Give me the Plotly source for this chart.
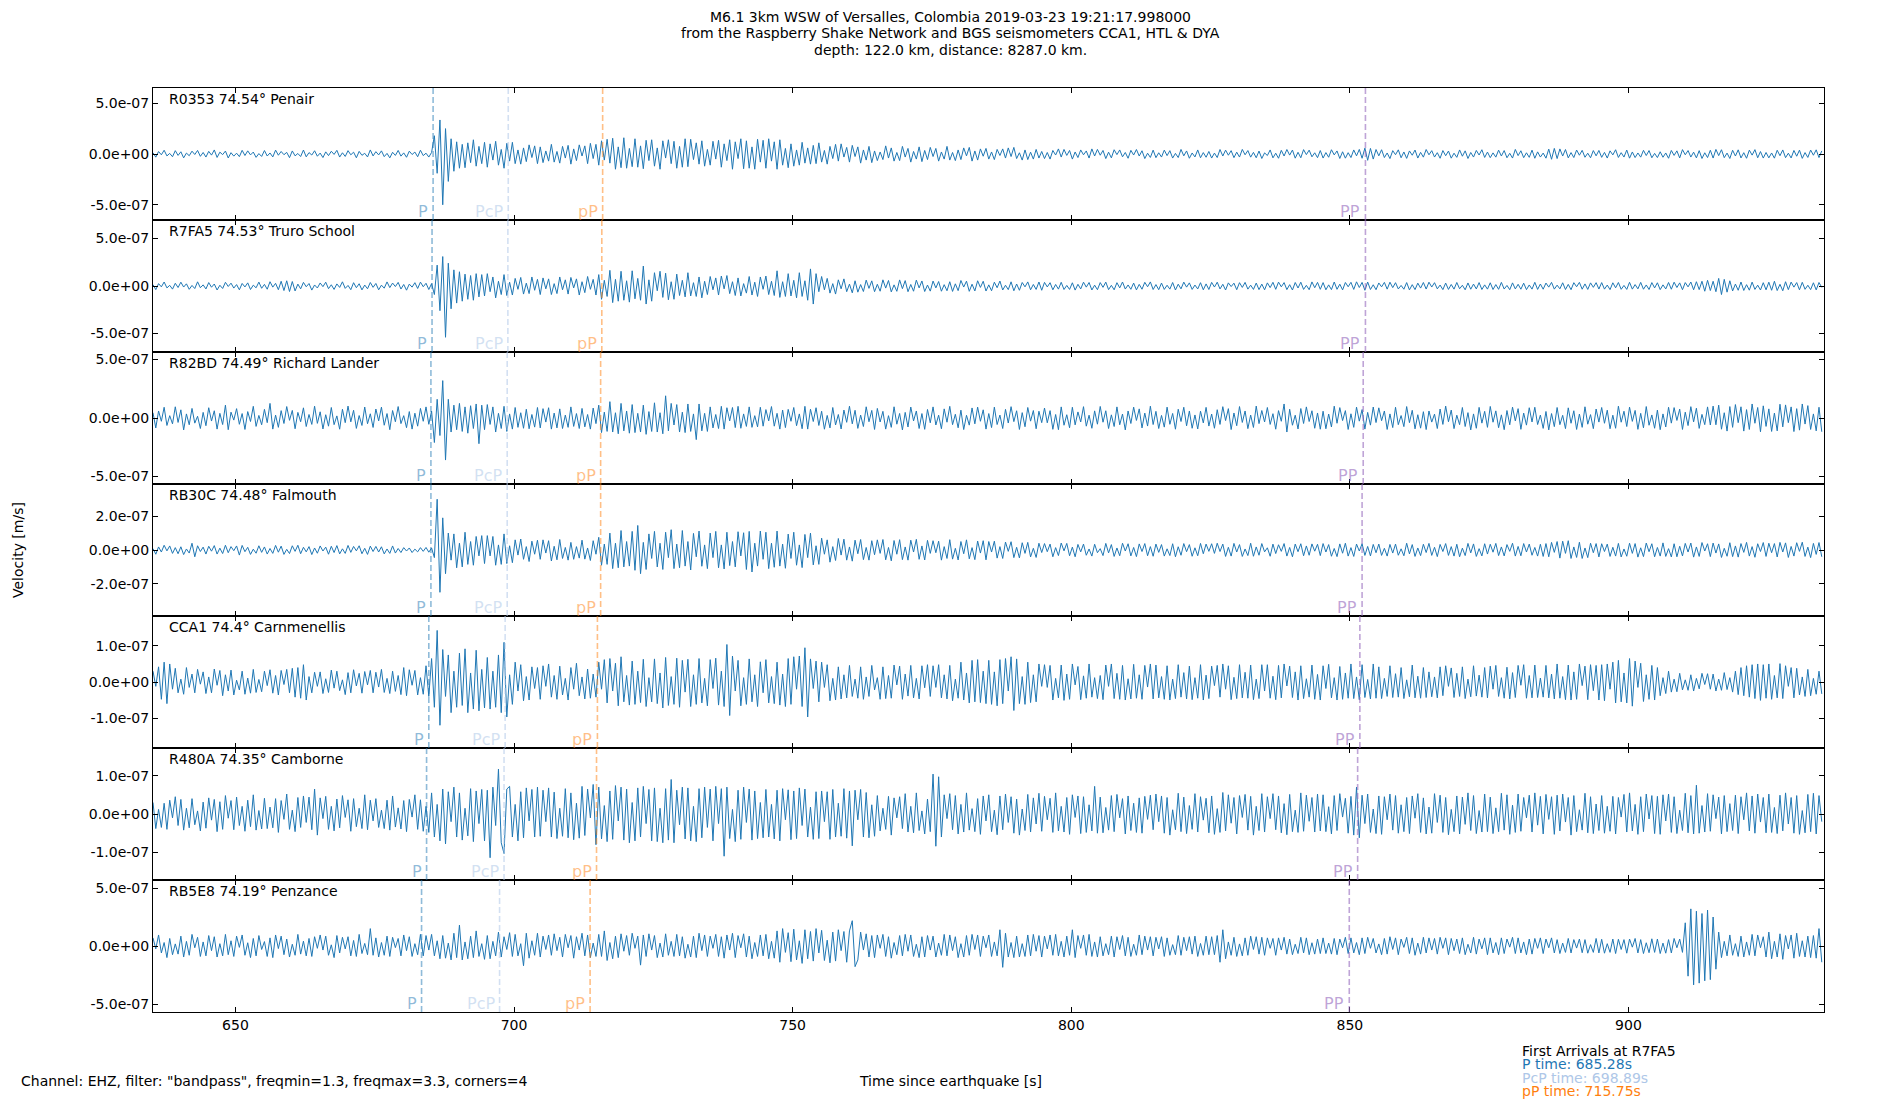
import numpy as np
import plotly.graph_objects as go
from plotly.subplots import make_subplots

# event header / footer text
title_lines = ["M6.1 3km WSW of Versalles, Colombia 2019-03-23 19:21:17.998000",
               "from the Raspberry Shake Network and BGS seismometers CCA1, HTL & DYA",
               "depth: 122.0 km, distance: 8287.0 km."]
filter_text = 'Channel: EHZ, filter: "bandpass", freqmin=1.3, freqmax=3.3, corners=4'
arrivals_header = "First Arrivals at R7FA5"
arrivals_lines = ["P time: 685.28s", "PcP time: 698.89s", "pP time: 715.75s"]
arrivals_colors = ["#1f77b4", "#aec7e8", "#ff7f0e"]

# stations, top to bottom
stations = ["R0353", "R7FA5", "R82BD", "RB30C", "CCA1", "R480A", "RB5E8"]
distances = ["74.54", "74.53", "74.49", "74.48", "74.4", "74.35", "74.19"]
places = ["Penair", "Truro School", "Richard Lander", "Falmouth",
          "Carnmenellis", "Camborne", "Penzance"]

# phase arrivals per station [s]
phases = ["P", "PcP", "pP", "PP"]
phase_colors = ["rgba(31,119,180,0.5)", "rgba(174,199,232,0.55)",
                "rgba(255,127,14,0.5)", "rgba(148,103,189,0.6)"]
p_times = [685.47, 685.28, 685.08, 685.08, 684.7, 684.3, 683.4]
pcp_times = [698.96, 698.89, 698.77, 698.77, 698.4, 698.2, 697.4]
pp_depth_times = [715.9, 715.75, 715.54, 715.54, 714.96, 714.8, 713.65]
pp_times = [852.8, 852.8, 852.4, 852.2, 851.8, 851.4, 849.9]

# y limits and tick step per panel [nm/s]
y_limits = [650, 695, 565, 390, 183, 172, 569]
y_steps = [500, 500, 500, 200, 100, 100, 500]

# sampling of the traces below
t_start = 635.2
dt = 0.5
x_range = [635.2, 935.1]

# velocity traces [nm/s], one line per 10 s
r0353 = [
    12, -31, 24, -8, 37, -19, 6, -27, 33, -14, 22, -38, 9, -17, 28, -5, 35, -23, 15, -30,
    26, -11, 40, -34, 18, -6, 29, -39, 13, -21, 8, -26, 36, -15, 31, -9, 19, -33, 4, -24,
    34, -20, 10, -29, 38, -12, 25, -7, 16, -36, 30, -18, 5, -25, 39, -28, 14, -10, 32, -22,
    9, -35, 21, -16, 27, -4, 36, -30, 12, -24, 33, -8, 18, -37, 26, -13, 7, -29, 40, -19,
    23, -9, 31, -26, 6, -38, 17, -14, 35, -21, 11, -32, 28, -5, 19, -27, 37, -16, 8, -30,
    15, 180, -190, 335, -500, 250, -270, 150, -170, 120, -140, 95, -135, 110, -85, 140, -120, 75, -95, 115,
    -130, 100, -60, 125, -110, 45, -140, 105, -70, 115, -95, 40, -100, 60, -75, 90, -35, 80, -95, 70,
    -85, 30, -70, 95, -80, 25, -90, 75, -40, 85, -100, 50, -65, 90, -20, 80, -95, 105, -45, 95,
    -110, 130, -60, 145, -90, 155, -150, 70, -135, 160, -140, 55, -125, 150, -130, 80, -145, 135, -65, 140,
    -120, 60, -150, 130, -40, 140, -95, 125, -140, 75, -130, 150, -125, 145, -55, 110, -100, 130, -120, 45,
    -110, 125, -50, 135, -130, 100, -65, 140, -150, 120, -45, 150, -145, 130, -140, 70, -150, 145, -80, 135,
    -140, 150, -70, 120, -150, 140, -110, 55, -135, 100, -120, 40, -110, 115, -90, 60, -100, 85, -95, 110,
    -80, 35, -100, 75, -45, 95, -70, 100, -30, 65, -80, 85, -25, 70, -90, 40, -60, 75, -85, 30,
    -65, 20, -55, 80, -40, 60, -70, 15, -65, 75, -30, 55, -80, 25, -50, 70, -75, 35, -55, 65,
    -25, 55, -70, 20, -50, 75, -60, 15, -65, 40, -55, 60, -18, 65, -70, 30, -60, 50, -22, 55,
    -50, 20, -55, 45, -15, 50, -40, 60, -25, 65, -45, 12, -60, 40, -55, 18, -50, 45, -40, 25,
    -45, 15, -50, 35, -10, 50, -30, 45, -14, 35, -50, 20, -35, 40, -8, 30, -40, 50, -20, 45,
    -12, 35, -45, 18, -38, 42, -6, 40, -28, 15, -42, 36, -10, 44, -20, 32, -45, 8, -34, 38,
    -36, 12, -30, 38, -16, 33, -40, 6, -35, 45, -18, 30, -42, 10, -29, 40, -37, 14, -32, 25,
    -40, 9, -35, 44, -20, 38, -12, 33, -36, 18, -30, 45, -8, 34, -31, 16, -37, 29, -44, 11,
    -15, 40, -38, 8, -42, 36, -20, 44, -11, 39, -41, 17, -37, 43, -6, 38, -28, 12, -36, 34,
    -40, 14, -32, 42, -9, 30, -44, 22, -41, 13, -35, 40, -18, 45, -42, 58, -62, 55, -50, 44,
    -18, 42, -35, 10, -45, 33, -7, 41, -37, 20, -43, 30, -12, 39, -40, 16, -31, 44, -8, 33,
    -30, 13, -42, 34, -17, 29, -41, 8, -33, 40, -22, 31, -44, 15, -30, 35, -10, 42, -34, 19,
    -36, 11, -31, 38, -20, 34, -37, 7, -40, 45, -16, 32, -36, 12, -33, 38, -42, 21, -30, 9,
    -41, 48, -52, 55, -45, 50, -20, 44, -38, 14, -35, 39, -12, 36, -32, 8, -37, 34, -18, 35,
    -33, 16, -40, 31, -9, 42, -34, 13, -30, 39, -41, 20, -35, 10, -31, 36, -15, 34, -37, 6,
    -35, 22, -32, 10, -42, 35, -14, 31, -39, 43, -8, 34, -30, 18, -38, 33, -44, 12, -35, 37,
    -40, 45, -16, 42, -36, 9, -44, 37, -20, 41, -39, 13, -42, 38, -11, 43, -37, 24, -40, 15,
    -38, 10, -41, 37, -17, 40, -36, 8, -39, 35, -22, 38, -43, 14, -34, 39, -12, 41, -35, 30,
]

r7fa5 = [
    14, -38, 25, -9, 42, -20, 7, -33, 29, -16, 40, -11, 23, -35, 6, -27, 44, -18, 12, -31,
    36, -13, 21, -42, 8, -26, 39, -5, 30, -22, 15, -40, 27, -10, 33, -37, 9, -19, 41, -24,
    17, -34, 45, -12, 28, -39, 50, -48, 55, -58, 47, -52, 20, -30, 38, -8, 26, -43, 11, -21,
    32, -7, 40, -28, 13, -36, 22, -15, 44, -25, 6, -39, 35, -18, 24, -41, 10, -29, 37, -14,
    27, -40, 9, -23, 43, -17, 31, -6, 38, -32, 16, -44, 20, -12, 35, -26, 41, -8, 29, -37,
    25, -90, 220, -260, 310, -540, 240, -240, 170, -180, 150, -160, 125, -140, 110, -150, 130, -115, 120, -105,
    130, -60, 95, -125, 50, -90, 120, -100, 40, -95, 80, -35, 90, -85, 30, -80, 95, -45, 70, -90,
    85, -30, 75, -90, 25, -80, 95, -40, 65, -85, 90, -20, 75, -95, 45, -70, 100, -35, 70, -95,
    120, -140, 60, -110, 165, -175, 70, -160, 155, -150, 55, -170, 160, -135, 80, -150, 210, -190, 65, -160,
    140, -50, 155, -120, 135, -145, 45, -140, 125, -100, 60, -115, 140, -105, 35, -110, 95, -125, 50, -90,
    100, -40, 85, -95, 105, -30, 110, -80, 45, -100, 85, -105, 25, -75, 100, -95, 40, -110, 95, -35,
    105, -90, 50, -100, 160, -120, 45, -110, 130, -105, 60, -125, 140, -110, 55, -150, 180, -190, 130, -60,
    100, -40, 80, -75, 25, -85, 65, -30, 75, -60, 20, -72, 55, -65, 15, -58, 62, -25, 54, -60,
    18, -55, 65, -22, 58, -62, 12, -56, 64, -28, 57, -60, 16, -55, 62, -20, 53, -58, 10, -54,
    52, -20, 47, -55, 14, -50, 45, -57, 23, -49, 58, -11, 51, -56, 19, -52, 55, -15, 50, -53,
    12, -50, 40, -18, 52, -42, 8, -38, 44, -50, 21, -45, 37, -9, 43, -40, 16, -36, 42, -45,
    38, -10, 35, -40, 16, -33, 39, -37, 6, -36, 34, -43, 18, -31, 40, -12, 37, -42, 9, -39,
    36, -14, 41, -38, 7, -40, 35, -20, 42, -32, 11, -35, 31, -41, 17, -34, 39, -8, 43, -37,
    15, -39, 31, -36, 8, -33, 37, -42, 19, -30, 41, -12, 33, -36, 10, -31, 35, -40, 22, -37,
    38, -11, 40, -31, 18, -42, 33, -6, 30, -39, 35, -15, 38, -33, 9, -36, 31, -38, 20, -40,
    33, -17, 39, -35, 41, -9, 36, -38, 14, -42, 37, -21, 40, -36, 7, -39, 43, -18, 38, -35,
    36, -40, 12, -38, 42, -35, 19, -41, 37, -8, 39, -36, 44, -16, 38, -45, 42, -37, 13, -39,
    32, -9, 38, -33, 40, -17, 35, -31, 6, -34, 36, -41, 14, -38, 30, -22, 37, -32, 40, -11,
    35, -30, 10, -38, 31, -36, 16, -33, 37, -29, 8, -40, 32, -34, 20, -31, 36, -37, 12, -33,
    34, -37, 15, -35, 38, -32, 6, -39, 33, -31, 18, -34, 30, -38, 11, -33, 39, -36, 21, -34,
    31, -12, 38, -33, 9, -30, 34, -37, 17, -39, 35, -8, 38, -34, 22, -36, 33, -14, 35, -32,
    36, -33, 10, -38, 34, -19, 37, -35, 6, -36, 39, -33, 15, -30, 38, -34, 11, -37, 36, -20,
    34, -38, 12, -31, 37, -34, 40, -16, 33, -39, 36, -9, 42, -40, 45, -38, 50, -55, 60, -48,
    50, -60, 80, -90, 70, -65, 55, -52, 20, -45, 42, -47, 14, -44, 41, -36, 9, -42, 35, -40,
    40, -45, 50, -48, 18, -50, 45, -38, 41, -12, 36, -40, 39, -35, 8, -38, 34, -41, 37, -15,
]

r82bd = [
    45, -85, 60, -28, 92, -64, 20, -50, 96, -38, 70, -102, 35, -58, 82, -44, 15, -90, 48, -66,
    88, -26, 62, -95, 40, -56, 110, -100, 50, -18, 80, -54, 38, -98, 55, -30, 100, -72, 22, -58,
    74, -40, 125, -95, 25, -80, 63, -47, 98, -20, 65, -92, 48, -32, 87, -73, 30, -55, 101, -46,
    53, -94, 28, -70, 90, -57, 18, -96, 75, -40, 102, -33, 66, -89, 21, -64, 94, -49, 36, -81,
    77, -25, 93, -62, 38, -100, 64, -32, 98, -48, 20, -83, 55, -95, 41, -70, 82, -28, 95, -54,
    60, -210, 160, -150, 320, -360, 160, -120, 110, -100, 125, -115, 95, -130, 105, -90, 120, -220, 110, -100,
    115, -55, 95, -120, 40, -90, 100, -115, 35, -95, 90, -80, 45, -88, 75, -92, 30, -78, 90, -85,
    80, -35, 88, -95, 42, -85, 78, -90, 25, -80, 95, -72, 38, -90, 82, -76, 30, -95, 85, -48,
    110, -125, 50, -115, 140, -120, 45, -135, 125, -110, 60, -130, 115, -125, 40, -120, 110, -140, 55, -115,
    130, -120, 45, -135, 190, -110, 125, -60, 115, -120, 50, -125, 120, -115, 35, -185, 120, -110, 40, -115,
    95, -85, 30, -90, 100, -95, 88, -25, 90, -82, 100, -88, 35, -72, 95, -80, 20, -76, 92, -70,
    72, -25, 98, -70, 40, -95, 68, -82, 74, -28, 90, -66, 35, -92, 100, -95, 75, -30, 88, -64,
    58, -96, 22, -85, 90, -60, 30, -94, 68, -37, 101, -50, 66, -89, 25, -73, 96, -32, 65, -98,
    82, -34, 57, -95, 20, -80, 96, -53, 39, -102, 48, -77, 94, -25, 60, -90, 38, -97, 73, -41,
    95, -60, 24, -92, 78, -36, 100, -57, 32, -84, 67, -99, 23, -61, 86, -50, 93, -28, 70, -95,
    38, -82, 93, -56, 25, -90, 74, -43, 97, -31, 62, -98, 46, -75, 90, -27, 64, -92, 58, -40,
    85, -41, 63, -97, 30, -100, 95, -62, 28, -84, 92, -59, 52, -34, 97, -70, 24, -88, 61, -53,
    99, -36, 62, -90, 27, -73, 95, -58, 34, -102, 60, -47, 93, -21, 78, -85, 42, -69, 101, -56,
    57, -90, 22, -78, 93, -54, 39, -96, 75, -30, 92, -67, 60, -88, 26, -94, 58, -42, 91, -69,
    34, -88, 71, -55, 97, -22, 80, -99, 43, -66, 98, -38, 60, -91, 25, -81, 102, -48, 64, -34,
    90, -55, 37, -96, 63, -28, 120, -120, 75, -62, 24, -94, 81, -47, 95, -30, 62, -88, 43, -96,
    58, -92, 34, -77, 101, -45, 89, -22, 63, -98, 36, -80, 93, -27, 72, -95, 48, -61, 94, -39,
    87, -23, 60, -98, 35, -82, 92, -57, 21, -74, 98, -40, 66, -93, 28, -87, 54, -99, 60, -35,
    33, -90, 77, -55, 102, -32, 68, -91, 24, -57, 90, -73, 46, -102, 35, -88, 91, -44, 57, -80,
    99, -36, 61, -83, 27, -100, 64, -58, 93, -25, 80, -97, 42, -61, 88, -34, 92, -56, 25, -89,
    56, -102, 38, -74, 90, -57, 23, -91, 87, -45, 62, -98, 34, -80, 96, -53, 29, -91, 77, -35,
    90, -45, 67, -92, 24, -88, 101, -36, 58, -73, 93, -29, 65, -97, 40, -84, 98, -62, 26, -88,
    68, -100, 35, -77, 92, -44, 89, -21, 76, -98, 50, -65, 97, -33, 84, -89, 31, -57, 95, -60,
    102, -58, 110, -96, 45, -112, 98, -80, 115, -40, 96, -112, 72, -98, 120, -45, 90, -118, 104, -72,
    78, -115, 42, -110, 118, -76, 112, -40, 95, -116, 80, -104, 120, -52, 106, -98, 35, -110, 92, -118,
]

rb30c = [
    8, -25, 18, -12, 28, -5, 24, -20, 14, -22, 19, -27, 6, -18, 40, -40, 25, -9, 17, -24,
    22, -7, 26, -24, 11, -21, 28, -16, 20, -4, 24, -30, 27, -10, 16, -26, 5, -19, 25, -14,
    18, -24, 9, -20, 27, -13, 23, -26, 4, -21, 25, -8, 28, -22, 16, -11, 20, -27, 12, -19,
    24, -6, 17, -25, 22, -15, 26, -23, 7, -20, 27, -14, 21, -5, 25, -22, 10, -26, 23, -9,
    21, -12, 19, -23, 6, -20, 24, -18, 9, -15, 14, -6, 12, -15, 5, -11, 14, -8, 15, -13,
    12, -45, 300, -250, 190, -140, 100, -60, 95, -105, 40, -100, 105, -85, 50, -90, 80, -35, 85, -80,
    85, -35, 80, -90, 30, -85, 95, -80, 25, -75, 60, -30, 65, -55, 20, -68, 52, -25, 58, -55,
    60, -18, 55, -65, 22, -58, 62, -50, 15, -60, 45, -55, 20, -48, 58, -54, 12, -62, 55, -25,
    75, -90, 35, -85, 100, -110, 40, -105, 115, -100, 50, -95, 110, -120, 145, -140, 45, -115, 95, -50,
    110, -100, 40, -115, 105, -45, 120, -110, 35, -105, 115, -95, 50, -118, 98, -40, 112, -96, 30, -110,
    100, -45, 110, -105, 30, -112, 105, -92, 50, -100, 108, -35, 102, -115, 110, -130, 40, -95, 112, -55,
    105, -110, 40, -102, 112, -95, 35, -108, 94, -50, 105, -90, 30, -104, 92, -45, 100, -88, 25, -85,
    70, -25, 60, -72, 20, -62, 68, -30, 64, -60, 18, -66, 58, -22, 62, -57, 15, -60, 55, -28,
    60, -20, 62, -58, 15, -64, 56, -25, 61, -57, 18, -60, 58, -12, 63, -55, 24, -59, 57, -20,
    55, -16, 52, -60, 20, -50, 61, -54, 10, -59, 50, -22, 60, -52, 14, -57, 53, -18, 55, -58,
    50, -12, 52, -48, 20, -50, 47, -8, 49, -45, 16, -47, 43, -20, 45, -41, 10, -44, 40, -15,
    38, -10, 35, -40, 14, -33, 41, -5, 39, -34, 17, -40, 33, -11, 35, -31, 6, -36, 34, -16,
    8, -33, 39, -17, 32, -38, 12, -34, 40, -6, 37, -35, 15, -39, 36, -9, 38, -34, 20, -37,
    35, -14, 32, -36, 7, -33, 37, -40, 19, -31, 38, -10, 32, -37, 13, -34, 39, -22, 35, -8,
    37, -20, 40, -9, 35, -38, 16, -36, 39, -12, 32, -38, 6, -33, 40, -37, 18, -31, 38, -11,
    13, -37, 35, -21, 31, -8, 38, -36, 15, -40, 35, -10, 37, -34, 24, -31, 36, -7, 34, -33,
    38, -12, 32, -37, 9, -39, 36, -19, 40, -36, 14, -38, 35, -6, 37, -32, 21, -35, 33, -16,
    35, -32, 10, -36, 33, -18, 35, -31, 7, -34, 40, -23, 32, -38, 12, -33, 34, -15, 39, -32,
    16, -39, 33, -9, 38, -32, 20, -36, 34, -40, 11, -33, 39, -17, 36, -38, 8, -35, 37, -24,
    34, -13, 39, -33, 18, -35, 32, -8, 40, -36, 21, -34, 38, -12, 35, -31, 15, -36, 34, -38,
    38, -40, 45, -14, 50, -48, 52, -20, 55, -50, 18, -44, 46, -50, 12, -45, 40, -16, 38, -41,
    37, -9, 35, -38, 16, -36, 39, -41, 6, -37, 40, -20, 38, -42, 13, -39, 41, -10, 37, -40,
    15, -36, 42, -38, 8, -41, 37, -40, 22, -35, 39, -12, 41, -42, 18, -38, 44, -6, 37, -39,
    41, -18, 36, -44, 10, -37, 43, -39, 24, -42, 38, -14, 45, -36, 20, -43, 37, -9, 44, -38,
    40, -16, 38, -41, 45, -12, 42, -44, 21, -36, 43, -8, 46, -38, 17, -45, 39, -26, 44, -40,
]

cca1 = [
    30, -12, 42, -48, 55, -60, 50, -20, 38, -30, 8, -34, 40, -15, 22, -30, 35, -6, 28, -32,
    14, -30, 36, -9, 32, -38, 20, -25, 33, -36, 5, -22, 30, -34, 11, -31, 35, -29, 7, -27,
    30, -10, 34, -31, 18, -36, 32, -7, 35, -30, 38, -42, 40, -45, 48, -50, 15, -30, 27, -12,
    28, -32, 9, -29, 33, -17, 30, -24, 6, -35, 26, -30, 34, -11, 24, -31, 29, -8, 32, -30,
    27, -14, 35, -29, 10, -32, 30, -26, 18, -35, 40, -38, 34, -9, 32, -36, 12, -34, 45, -40,
    65, -70, 143, -120, 90, -40, 75, -85, 30, -70, 80, -65, 92, -85, 25, -75, 88, -80, 35, -72,
    68, -75, 30, -70, 75, -85, 110, -97, 20, -62, 55, -25, 48, -52, 15, -50, 42, -18, 40, -48,
    45, -12, 50, -42, 18, -48, 44, -36, 10, -50, 40, -20, 52, -38, 14, -47, 36, -45, 22, -42,
    55, -20, 62, -58, 65, -25, 52, -66, 70, -55, 18, -64, 58, -62, 30, -57, 63, -68, 12, -55,
    64, -60, 25, -72, 68, -65, 15, -62, 66, -70, 60, -28, 63, -68, 20, -62, 65, -58, 10, -66,
    62, -18, 66, -64, 30, -68, 104, -93, 72, -25, 60, -66, 12, -62, 64, -55, 20, -68, 56, -30,
    62, -58, 15, -60, 55, -64, 22, -68, 65, -62, 70, -20, 72, -68, 95, -97, 64, -18, 58, -55,
    55, -15, 48, -52, 10, -50, 42, -47, 20, -44, 46, -40, 8, -45, 42, -48, 14, -40, 46, -22,
    12, -48, 42, -46, 18, -45, 47, -8, 44, -48, 22, -39, 46, -44, 10, -47, 45, -16, 48, -40,
    45, -15, 48, -44, 20, -47, 46, -52, 8, -45, 55, -50, 25, -58, 60, -55, 62, -57, 30, -60,
    60, -62, 28, -66, 62, -60, 65, -25, 70, -79, 64, -60, 15, -62, 55, -57, 20, -55, 50, -12,
    48, -15, 46, -50, 10, -44, 47, -51, 22, -48, 50, -8, 43, -49, 17, -45, 50, -42, 12, -46,
    18, -49, 47, -12, 50, -46, 24, -48, 46, -50, 9, -47, 49, -45, 20, -48, 46, -14, 50, -47,
    47, -44, 15, -48, 45, -50, 8, -46, 48, -42, 26, -47, 44, -49, 12, -45, 48, -50, 19, -46,
    44, -10, 46, -42, 50, -20, 45, -49, 13, -46, 48, -44, 27, -45, 47, -49, 8, -46, 48, -25,
    48, -45, 16, -49, 46, -44, 50, -11, 44, -43, 28, -50, 45, -46, 9, -42, 47, -48, 21, -50,
    45, -18, 49, -44, 12, -50, 43, -48, 25, -45, 50, -46, 14, -49, 48, -43, 7, -47, 50, -45,
    42, -46, 10, -40, 45, -43, 23, -42, 40, -46, 6, -41, 47, -44, 16, -45, 40, -43, 28, -41,
    14, -44, 42, -38, 45, -12, 39, -43, 24, -40, 42, -46, 8, -41, 45, -39, 19, -42, 40, -44,
    44, -20, 46, -40, 12, -45, 41, -47, 26, -43, 46, -9, 48, -45, 18, -44, 47, -43, 11, -42,
    46, -44, 22, -47, 50, -45, 15, -49, 47, -50, 28, -48, 50, -10, 44, -49, 48, -24, 46, -50,
    48, -52, 50, -20, 55, -58, 60, -55, 25, -58, 65, -67, 58, -15, 52, -54, 20, -48, 46, -50,
    40, -38, 12, -32, 30, -28, 8, -27, 24, -22, 6, -23, 20, -25, 10, -19, 24, -7, 23, -20,
    22, -25, 8, -23, 26, -21, 12, -28, 30, -35, 40, -38, 45, -42, 48, -46, 50, -51, 48, -45,
    50, -48, 18, -44, 51, -46, 45, -12, 40, -44, 38, -36, 14, -40, 35, -38, 10, -34, 30, -33,
]

r480a = [
    30, -38, 12, -35, 28, -40, 36, -10, 45, -30, 38, -42, 15, -36, 40, -28, 8, -44, 31, -37,
    42, -16, 38, -46, 32, -40, 48, -11, 35, -41, 44, -30, 20, -45, 36, -33, 50, -42, 9, -39,
    41, -38, 18, -36, 40, -48, 35, -14, 52, -40, 10, -46, 43, -35, 47, -22, 44, -41, 65, -55,
    42, -12, 46, -40, 20, -44, 39, -36, 48, -9, 37, -45, 40, -33, 15, -38, 50, -41, 36, -18,
    40, -35, 10, -38, 36, -42, 47, -34, 16, -39, 35, -46, 38, -8, 50, -40, 37, -45, 20, -48,
    55, -60, 25, -70, 65, -78, 58, -20, 70, -60, 55, -68, 15, -57, 66, -72, 60, -25, 64, -70,
    62, -114, 70, -30, 117, -75, -103, 65, 72, -60, 25, -70, 58, -62, 68, -18, 64, -60, 70, -58,
    62, -20, 68, -60, 57, -64, 15, -58, 66, -62, 55, -67, 28, -63, 72, -56, 65, -10, 77, -80,
    70, -65, 22, -72, 60, -66, 74, -18, 70, -68, 65, -75, 30, -70, 68, -60, 72, -25, 64, -70,
    68, -72, 15, -75, 66, -68, 90, -75, 62, -28, 70, -65, 68, -70, 20, -72, 66, -62, 70, -35,
    65, -70, 72, -25, 66, -110, 70, -64, 12, -72, 62, -66, 70, -22, 65, -68, 60, -64, 30, -62,
    64, -60, 25, -65, 62, -70, 66, -15, 63, -67, 60, -64, 68, -30, 65, -60, 18, -66, 58, -64,
    60, -20, 58, -66, 64, -60, 28, -58, 66, -63, 60, -83, 62, -15, 64, -60, 56, -62, 24, -58,
    48, -44, 15, -40, 46, -55, 42, -10, 45, -38, 53, -47, 20, -49, 55, -43, 8, -52, 39, -46,
    104, -84, 97, -60, 50, -12, 53, -41, 48, -52, 25, -47, 55, -42, 14, -46, 40, -53, 47, -18,
    50, -46, 10, -54, 47, -41, 52, -22, 45, -50, 39, -55, 13, -43, 51, -47, 42, -26, 54, -45,
    46, -15, 41, -48, 55, -44, 20, -47, 43, -53, 50, -9, 47, -51, 45, -48, 24, -44, 72, -50,
    44, -49, 17, -42, 48, -46, 51, -10, 40, -52, 47, -43, 28, -48, 42, -50, 46, -14, 49, -41,
    52, -20, 47, -50, 43, -55, 11, -41, 54, -46, 44, -51, 22, -40, 53, -47, 45, -16, 41, -49,
    47, -53, 14, -48, 56, -44, 50, -24, 43, -52, 48, -9, 51, -42, 46, -55, 20, -43, 53, -47,
    45, -12, 53, -41, 47, -49, 27, -54, 51, -46, 10, -48, 55, -45, 49, -19, 43, -47, 52, -44,
    50, -46, 19, -52, 48, -43, 53, -8, 41, -50, 46, -55, 70, -62, 49, -25, 52, -48, 13, -51,
    47, -53, 45, -15, 52, -42, 48, -50, 24, -46, 43, -51, 47, -11, 53, -48, 42, -52, 18, -50,
    53, -22, 49, -48, 43, -54, 12, -46, 47, -52, 44, -27, 55, -43, 48, -51, 9, -47, 52, -46,
    44, -51, 16, -46, 54, -42, 50, -53, 23, -48, 52, -45, 43, -10, 49, -47, 55, -29, 46, -52,
    51, -14, 45, -53, 49, -44, 52, -21, 43, -55, 48, -46, 11, -42, 54, -49, 45, -51, 26, -43,
    48, -50, 20, -45, 46, -52, 43, -8, 51, -47, 55, -44, 25, -53, 45, -46, 52, -13, 48, -51,
    46, -53, 50, -18, 52, -48, 45, -51, 10, -43, 54, -49, 48, -52, 75, -50, 22, -47, 53, -45,
    50, -12, 44, -52, 48, -46, 27, -43, 49, -51, 45, -15, 55, -44, 47, -50, 52, -21, 43, -49,
    52, -48, 17, -51, 49, -44, 55, -26, 43, -50, 48, -53, 9, -49, 51, -46, 54, -52, 48, -20,
]

rb5e8 = [
    70, -25, 95, -60, 30, -100, 65, -75, 18, -70, 85, -95, 40, -80, 100, -15, 75, -90, 35, -85,
    90, -40, 80, -95, 20, -85, 100, -75, 45, -90, 85, -12, 95, -80, 28, -100, 65, -85, 90, -30,
    38, -90, 70, -100, 95, -22, 85, -75, 60, -95, 15, -80, 100, -70, 42, -85, 65, -90, 80, -20,
    95, -35, 85, -80, 10, -100, 90, -60, 75, -25, 80, -85, 48, -90, 100, -65, 22, -75, 150, -80,
    70, -95, 30, -80, 85, -90, 75, -14, 65, -85, 95, -40, 80, -90, 20, -75, 100, -85, 90, -35,
    100, -85, 45, -110, 90, -105, 25, -120, 110, -100, 180, -120, 35, -110, 85, -100, 130, -90, 20, -115,
    90, -110, 40, -85, 120, -95, 80, -30, 115, -90, 100, -85, 20, -170, 110, -105, 45, -80, 110, -95,
    85, -30, 95, -80, 105, -40, 75, -95, 100, -15, 90, -105, 80, -35, 110, -85, 95, -100, 25, -90,
    100, -90, 130, -125, 30, -110, 85, -100, 105, -45, 90, -80, 110, -20, 85, -165, 95, -90, 105, -35,
    90, -100, 25, -95, 105, -80, 40, -90, 100, -85, 80, -105, 15, -95, 85, -100, 110, -40, 95, -90,
    85, -20, 100, -90, 80, -105, 95, -35, 110, -100, 90, -15, 105, -95, 85, -110, 30, -90, 95, -85,
    100, -110, 40, -105, 130, -140, 150, -55, 115, -135, 145, -120, 45, -150, 140, -110, 125, -130, 150, -60,
    135, -125, 50, -145, 120, -130, 140, -40, 125, -140, 130, 218, -178, -120, 120, -35, 105, -95, 90, -100,
    95, -20, 100, -90, 80, -105, 30, -75, 90, -85, 100, -45, 95, -90, 15, -100, 80, -95, 90, -35,
    85, -95, 25, -80, 100, -85, 95, -40, 80, -100, 20, -95, 90, -80, 100, -30, 95, -90, 85, -15,
    95, -90, 35, -85, 140, -184, 110, -95, 30, -100, 85, -95, 20, -90, 95, -85, 100, -45, 90, -95,
    85, -25, 95, -80, 100, -85, 40, -95, 85, -80, 140, -100, 90, -20, 95, -80, 100, -90, 35, -95,
    80, -85, 20, -75, 85, -95, 80, -30, 90, -85, 75, -90, 15, -80, 95, -75, 85, -35, 80, -85,
    75, -25, 80, -90, 70, -80, 12, -75, 90, -80, 75, -40, 80, -70, 85, -90, 22, -80, 85, -75,
    80, -75, 90, -140, 140, -110, 35, -80, 75, -90, 18, -85, 70, -80, 85, -30, 80, -70, 75, -80,
    70, -20, 65, -80, 70, -35, 75, -70, 60, -75, 15, -65, 75, -60, 70, -75, 28, -70, 60, -65,
    70, -65, 25, -70, 65, -75, 60, -15, 75, -65, 70, -60, 30, -75, 70, -65, 75, -20, 65, -60,
    18, -75, 65, -70, 80, -30, 70, -75, 60, -12, 75, -65, 70, -80, 25, -70, 75, -60, 70, -35,
    65, -70, 75, -20, 70, -75, 65, -40, 60, -65, 70, -75, 15, -60, 75, -70, 60, -25, 70, -75,
    70, -60, 30, -75, 70, -65, 60, -10, 75, -65, 70, -60, 35, -75, 60, -70, 65, -20, 70, -65,
    60, -15, 70, -60, 55, -65, 25, -55, 65, -60, 55, -18, 60, -58, 55, -62, 12, -55, 65, -60,
    58, -62, 20, -55, 60, -65, 58, -30, 55, -62, 60, -10, 65, -60, 55, -65, 28, -58, 62, -55,
    60, -65, 25, -62, 55, -60, 65, -15, 60, -55, 200, -260, 320, -335, 300, -320, 280, -300, 310, -290,
    250, -200, 120, -100, 40, -85, 95, -80, 20, -90, 85, -95, 35, -80, 100, -85, 95, -15, 80, -95,
    120, -110, 40, -95, 105, -115, 90, -25, 95, -105, 110, -90, 45, -95, 85, -100, 90, -105, 150, -140,
]

traces = [r0353, r7fa5, r82bd, rb30c, cca1, r480a, rb5e8]

# the page puts the figure 8 px in from the top-left corner
PAGE = 8
W, H = 1884, 1092
ML, MR, MT, MB = 145, 68, 80, 88
font = "DejaVu Sans"


def px_x(px):
    return (px - PAGE - ML) / (W - ML - MR)


def px_y(py):
    return (H - MB - (py - PAGE)) / (H - MT - MB)


n = len(stations)
fig = make_subplots(rows=n, cols=1, shared_xaxes=True, vertical_spacing=0)

for i in range(n):
    row = i + 1
    sfx = "" if row == 1 else str(row)
    vals = np.asarray(traces[i], dtype=float) * 1e-9
    t = t_start + dt * np.arange(len(vals))
    fig.add_trace(go.Scatter(x=t, y=vals, mode="lines",
                             line=dict(color="#1f77b4", width=1),
                             showlegend=False, hoverinfo="skip"),
                  row=row, col=1)

    lim = y_limits[i] * 1e-9
    step = y_steps[i] * 1e-9
    tv = [step, 0.0, -step]
    fig.update_yaxes(range=[-lim, lim], tickvals=tv,
                     ticktext=[f"{v:.1e}" for v in tv],
                     row=row, col=1)

    # phase arrival markers
    times = [p_times[i], pcp_times[i], pp_depth_times[i], pp_times[i]]
    for ph, tt, col in zip(phases, times, phase_colors):
        fig.add_shape(type="line", x0=tt, x1=tt, y0=0, y1=1,
                      xref="x" + sfx, yref="y" + sfx + " domain",
                      line=dict(color=col, width=1.6, dash="6px,3px"))
        fig.add_annotation(x=tt, y=0, xref="x" + sfx, yref="y" + sfx + " domain",
                           text=ph, showarrow=False, xanchor="right", yanchor="middle",
                           xshift=-3, yshift=9, font=dict(family=font, size=16, color=col))

    # station label
    fig.add_annotation(x=0, y=1, xref="x" + sfx + " domain", yref="y" + sfx + " domain",
                       text=f"{stations[i]} {distances[i]}° {places[i]}",
                       showarrow=False, xanchor="left", yanchor="middle",
                       xshift=14, yshift=-11, font=dict(family=font, size=14, color="black"))

fig.update_xaxes(range=x_range, dtick=50, tick0=650, ticks="inside", ticklen=5,
                 tickcolor="black", showline=True, linecolor="black", linewidth=1,
                 mirror="allticks", showgrid=False, zeroline=False,
                 tickfont=dict(family=font, size=14, color="black"))
fig.update_yaxes(ticks="inside", ticklen=5, tickcolor="black", showline=True,
                 linecolor="black", linewidth=1, mirror="allticks", showgrid=False,
                 zeroline=False, tickfont=dict(family=font, size=14, color="black"))

# header
for line, py in zip(title_lines, [17, 33, 50]):
    fig.add_annotation(x=px_x(950), y=px_y(py), xref="paper", yref="paper", text=line,
                       showarrow=False, xanchor="center", yanchor="middle",
                       font=dict(family=font, size=14, color="black"))

# axis labels and footer
fig.add_annotation(x=px_x(18), y=px_y(550), xref="paper", yref="paper",
                   text="Velocity [m/s]", textangle=-90, showarrow=False,
                   xanchor="center", yanchor="middle",
                   font=dict(family=font, size=14, color="black"))
fig.add_annotation(x=px_x(950), y=px_y(1081), xref="paper", yref="paper",
                   text="Time since earthquake [s]", showarrow=False,
                   xanchor="center", yanchor="middle",
                   font=dict(family=font, size=14, color="black"))
fig.add_annotation(x=px_x(19), y=px_y(1081), xref="paper", yref="paper",
                   text=filter_text, showarrow=False, xanchor="left", yanchor="middle",
                   font=dict(family=font, size=14, color="black"))
fig.add_annotation(x=px_x(1520), y=px_y(1051), xref="paper", yref="paper",
                   text=arrivals_header, showarrow=False, xanchor="left", yanchor="middle",
                   font=dict(family=font, size=14, color="black"))
for line, col, py in zip(arrivals_lines, arrivals_colors, [1064, 1078, 1091]):
    fig.add_annotation(x=px_x(1520), y=px_y(py), xref="paper", yref="paper",
                       text=line, showarrow=False, xanchor="left", yanchor="middle",
                       font=dict(family=font, size=14, color=col))

fig.update_layout(width=W, height=H, autosize=False,
                  margin=dict(l=ML, r=MR, t=MT, b=MB),
                  plot_bgcolor="white", paper_bgcolor="white",
                  font=dict(family=font, size=14, color="black"))

fig.write_html("out.html")
